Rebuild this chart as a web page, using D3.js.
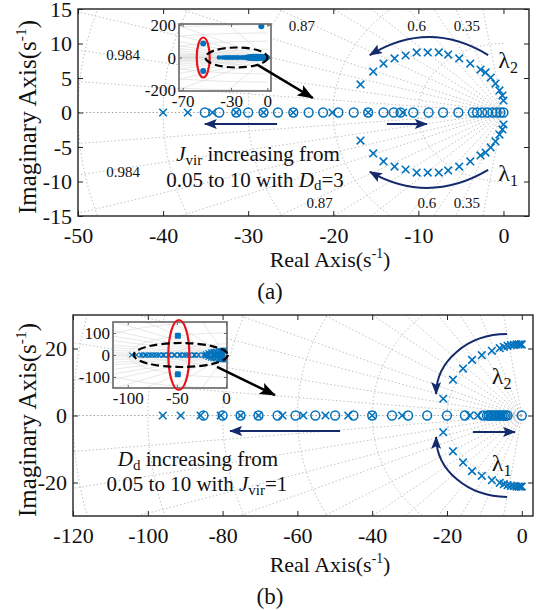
<!DOCTYPE html>
<html>
<head>
<meta charset="utf-8">
<script src="https://cdn.jsdelivr.net/npm/d3@7"></script>
<style>
  body { margin: 0; background: #fff; }
  svg text { font-family: 'Liberation Serif', 'Times New Roman', Tinos, 'DejaVu Serif', serif; fill: #111; }
</style>
</head>
<body>
<svg id="chart" width="541" height="610" font-family="Liberation Serif, Times New Roman, serif"></svg>
<script>
// ---- data ----
const topXTicks = [-50, -40, -30, -20, -10, 0];
const topYTicks = [-15, -10, -5, 0, 5, 10, 15];
const botXTicks = [-120, -100, -80, -60, -40, -20, 0];
const botYTicks = [-20, 0, 20];
const topInsetXTicks = [-70, -30, 0];
const topInsetYTicks = [-200, 0, 200];
const botInsetXTicks = [-100, -50, 0];
const botInsetYTicks = [-100, 0, 100];

const zetaLines = [0.16, 0.35, 0.48, 0.6, 0.72, 0.8, 0.87, 0.93, 0.96, 0.984, 0.996];
const topRadii = [10, 20, 30, 40, 50];
const botRadii = [20, 40, 60, 80, 100, 120];
const topInsetRadii = [50, 100, 150, 200];
const botInsetRadii = [50, 100, 150];

// (a) J_vir sweep
const topRealX = [-40, -37.1, -34.2, -31.4, -28.2, -24.7, -20.1, -15.9, -11.8];
const topRealO = [-35.1, -33.4, -31.4, -30, -28.2, -26.5, -24.7, -22.9, -21.2, -19.4, -17.6, -15.9,
  -14.1, -12.9, -12.1, -10.6, -8.8, -7.1, -5.3, -3.6, -3.1, -2.5, -1.9, -1.3, -0.8, -0.35, 0];
const topArcRe = [-16.8, -15.3, -14.1, -12.8, -11.5, -10.2, -8.9, -7.6, -6.5, -5.2, -3.9, -2.7, -2.1, -1.5, -0.94, -0.47, -0.12, 0];
const topArcIm = [4.06, 5.94, 7.1, 7.83, 8.26, 8.7, 8.7, 8.7, 8.4, 7.83, 7.1, 6.23, 5.8, 5.07, 4.2, 3.19, 2.46, 1.74];
const topFarRe = [-53, -53, -5];
const topFarIm = [85, -83, 191];

// (b) D_d sweep
const botRealX = [-96, -91.2, -85.9, -80.5, -75.2, -70.4, -64, -58.4, -52.5, -46.4, -40, -32,
  -13.9, -11.7, -9, -7.5, -6, -5];
const botRealO = [-85.1, -80, -75.2, -70.4, -65.3, -60.5, -55.2, -49.9, -45, -40, -34.7, -30.4,
  -25.3, -20, -15.2, -10.4, -9.3, -8.8, -8.3, -7.8, -7.3, -6.8, -6.3, -5.8, -5.3, -4.8, -4.3, -3.8, 0];
const botArcRe = [-21, -18.4, -15.7, -13.3, -10.7, -8, -5.9, -4.8, -3.8, -2.9, -2.1, -1.4, -0.8, -0.3, 0];
const botArcIm = [5.0, 10.7, 14, 16.6, 18, 19.3, 20.1, 20.5, 20.8, 21, 21.1, 21.2, 21.2, 21.2, 21.2];
const botFarRe = [-49, -49];
const botFarIm = [87, -88];

const markBlue = '#0072bd';
const navy = '#142a6c';
const serif = "'Liberation Serif', 'Times New Roman', Tinos, 'DejaVu Serif', serif";

const svg = d3.select('#chart');
const defs = svg.append('defs');

function addHead(id, color, len, wid) {
  defs.append('marker')
    .attr('id', id)
    .attr('viewBox', `0 0 ${len} ${wid}`)
    .attr('refX', len - 1)
    .attr('refY', wid / 2)
    .attr('markerWidth', len)
    .attr('markerHeight', wid)
    .attr('markerUnits', 'userSpaceOnUse')
    .attr('orient', 'auto')
    .append('path')
    .attr('d', `M0,0L${len},${wid / 2}L0,${wid}L${len * 0.2},${wid / 2}Z`)
    .attr('fill', color);
}
addHead('navyHead', navy, 13, 10);
addHead('blackHead', '#000', 16, 12);

const toPts = (re, im) => re.map((v, i) => [v, im ? im[i] : 0]);
const conj = (pts) => pts.map(([a, b]) => [a, -b]);

// dotted s-plane grid: damping lines and natural-frequency arcs
function drawGrid(g, x, y, radii, style) {
  zetaLines.forEach((z) => {
    [1, -1].forEach((s) => {
      g.append('line')
        .attr('x1', x(0)).attr('y1', y(0))
        .attr('x2', x(-1000 * z)).attr('y2', y(s * 1000 * Math.sqrt(1 - z * z)))
        .attr('stroke', style.color).attr('stroke-width', style.width)
        .attr('stroke-dasharray', style.dash);
    });
  });
  g.append('line')
    .attr('x1', x(-1000)).attr('x2', x(0)).attr('y1', y(0)).attr('y2', y(0))
    .attr('stroke', style.axisColor).attr('stroke-width', style.width)
    .attr('stroke-dasharray', style.dash);
  const arc = d3.line().x((a) => a[0]).y((a) => a[1]);
  radii.forEach((r) => {
    const pts = d3.range(0, 181, 3).map((deg) => {
      const t = (90 + deg) * Math.PI / 180;
      return [x(r * Math.cos(t)), y(r * Math.sin(t))];
    });
    g.append('path').attr('d', arc(pts)).attr('fill', 'none')
      .attr('stroke', style.color).attr('stroke-width', style.width)
      .attr('stroke-dasharray', style.dash);
  });
}

function drawAxes(x, y, xTicks, yTicks, opt) {
  const [x0, x1] = x.range();
  const [yb, yt] = y.range();
  const fmt = (d) => String(d);
  const g = svg.append('g');
  g.append('g').attr('transform', `translate(0,${yb})`)
    .call(d3.axisBottom(x).tickValues(xTicks).tickFormat(fmt).tickSizeInner(-opt.tick).tickSizeOuter(0).tickPadding(opt.padX));
  const left = g.append('g').attr('transform', `translate(${x0},0)`)
    .call(d3.axisLeft(y).tickValues(yTicks).tickFormat(fmt).tickSizeInner(-opt.tick).tickSizeOuter(0).tickPadding(opt.padY));
  g.append('g').attr('transform', `translate(0,${yt})`)
    .call(d3.axisTop(x).tickValues(xTicks).tickFormat('').tickSizeInner(-opt.tick).tickSizeOuter(0));
  g.append('g').attr('transform', `translate(${x1},0)`)
    .call(d3.axisRight(y).tickValues(yTicks).tickFormat('').tickSizeInner(-opt.tick).tickSizeOuter(0));
  g.selectAll('.domain').remove();
  g.selectAll('g').attr('font-family', null).attr('font-size', null);
  g.selectAll('.tick line').attr('stroke', opt.frame).attr('stroke-width', 1);
  g.selectAll('.tick text').attr('font-size', opt.font).attr('fill', '#111')
    .attr('font-family', serif).style('font-family', serif);
  left.selectAll('.tick text').attr('dy', '0.34em');
  g.append('rect').attr('x', x0).attr('y', yt).attr('width', x1 - x0).attr('height', yb - yt)
    .attr('fill', 'none').attr('stroke', opt.frame).attr('stroke-width', opt.frameWidth);
}

function drawCrosses(g, x, y, pts, size, width) {
  g.append('g').selectAll('path').data(pts).join('path')
    .attr('transform', (d) => `translate(${x(d[0])},${y(d[1])})`)
    .attr('d', `M${-size},${-size}L${size},${size}M${-size},${size}L${size},${-size}`)
    .attr('stroke', markBlue).attr('stroke-width', width).attr('fill', 'none');
}

function drawRings(g, x, y, pts, r, width) {
  g.append('g').selectAll('circle').data(pts).join('circle')
    .attr('cx', (d) => x(d[0])).attr('cy', (d) => y(d[1])).attr('r', r)
    .attr('stroke', markBlue).attr('stroke-width', width).attr('fill', 'none');
}

function drawDots(g, x, y, pts, r) {
  g.append('g').selectAll('circle').data(pts).join('circle')
    .attr('cx', (d) => x(d[0])).attr('cy', (d) => y(d[1])).attr('r', r)
    .attr('fill', markBlue);
}

function panelClip(id, x, y) {
  const [x0, x1] = x.range();
  const [yb, yt] = y.range();
  defs.append('clipPath').attr('id', id).append('rect')
    .attr('x', x0).attr('y', yt).attr('width', x1 - x0).attr('height', yb - yt);
  return svg.append('g').attr('clip-path', `url(#${id})`);
}

const mainGrid = { color: '#b3b3b3', axisColor: '#8a8a8a', width: 0.8, dash: '1.5,2.2' };
const insetGrid = { color: '#dcdcdc', axisColor: '#c8c8c8', width: 0.7, dash: null };
const mainAxes = { tick: 5, padX: 11, padY: 6, font: 22, frame: '#222', frameWidth: 1.4 };
const insetAxes = { tick: 3, padX: 4, padY: 3, font: 17, frame: '#666', frameWidth: 1.6 };

function navyArrow(path) {
  svg.append('path').attr('d', path).attr('fill', 'none').attr('stroke', navy)
    .attr('stroke-width', 2).attr('marker-end', 'url(#navyHead)');
}
function blackArrow(x1, y1, x2, y2) {
  svg.append('line').attr('x1', x1).attr('y1', y1).attr('x2', x2).attr('y2', y2)
    .attr('stroke', '#000').attr('stroke-width', 2.6).attr('marker-end', 'url(#blackHead)');
}
function ellipse(cx, cy, rx, ry, color, dash) {
  svg.append('ellipse').attr('cx', cx).attr('cy', cy).attr('rx', rx).attr('ry', ry)
    .attr('fill', 'none').attr('stroke', color).attr('stroke-width', 2.2)
    .attr('stroke-dasharray', dash);
}
function lambda(px, py, sub) {
  const t = svg.append('text').attr('x', px).attr('y', py).attr('font-size', 24);
  t.append('tspan').text('λ');
  t.append('tspan').attr('font-size', 16).attr('dy', 5).text(sub);
}
function axisTitle(sel, main, size) {
  sel.append('tspan').text(main);
  sel.append('tspan').attr('font-size', size * 0.62).attr('dy', -size * 0.4).text('-1');
  sel.append('tspan').attr('dy', size * 0.4).text(')');
}

// ================= (a) =================
const topX = d3.scaleLinear().domain([-50, 3]).range([78, 529]);
const topY = d3.scaleLinear().domain([-15, 15]).range([216, 9]);

const topGridG = panelClip('clipTop', topX, topY);
drawGrid(topGridG, topX, topY, topRadii, mainGrid);

// damping labels
[['0.984', -44.7, 7.6], ['0.984', -44.7, -9.3], ['0.87', -23.7, 11.8], ['0.87', -21.6, -13.9],
 ['0.6', -10.2, 11.8], ['0.6', -9.0, -13.9], ['0.35', -4.3, 11.8], ['0.35', -4.3, -13.9]]
  .forEach(([s, a, b]) => {
    svg.append('text').attr('x', topX(a)).attr('y', topY(b)).attr('text-anchor', 'middle')
      .attr('font-size', 15).text(s);
  });

const topMarks = svg.append('g');
drawRings(topMarks, topX, topY, toPts(topRealO), 4.4, 1.5);
drawCrosses(topMarks, topX, topY, toPts(topRealX), 3.8, 1.6);
drawCrosses(topMarks, topX, topY, toPts(topArcRe, topArcIm), 3.8, 1.6);
drawCrosses(topMarks, topX, topY, conj(toPts(topArcRe, topArcIm)), 3.8, 1.6);

drawAxes(topX, topY, topXTicks, topYTicks, mainAxes);

// navy arrows (a)
navyArrow(`M${topX(-26.6)},${topY(-1.67)}L${topX(-35.1)},${topY(-1.67)}`);
navyArrow(`M${topX(-13.7)},${topY(-1.67)}L${topX(-9.0)},${topY(-1.67)}`);
navyArrow(`M${topX(-1.8)},${topY(8.33)}Q${topX(-8.75)},${topY(13.55)} ${topX(-15.7)},${topY(8.33)}`);
navyArrow(`M${topX(-1.8)},${topY(-8.33)}Q${topX(-8.75)},${topY(-13.4)} ${topX(-15.7)},${topY(-8.6)}`);
lambda(topX(-0.6), topY(6.4), '2');
lambda(topX(-0.6), topY(-9.9), '1');

// annotation text (a)
{
  const t1 = svg.append('text').attr('x', 258).attr('y', 161).attr('text-anchor', 'middle').attr('font-size', 21);
  t1.append('tspan').attr('font-style', 'italic').text('J');
  t1.append('tspan').attr('font-size', 15).attr('dy', 4).text('vir');
  t1.append('tspan').attr('dy', -4).text(' increasing from');
  const t2 = svg.append('text').attr('x', 255).attr('y', 187).attr('text-anchor', 'middle').attr('font-size', 21);
  t2.append('tspan').text('0.05 to 10 with ');
  t2.append('tspan').attr('font-style', 'italic').text('D');
  t2.append('tspan').attr('font-size', 15).attr('dy', 3).text('d');
  t2.append('tspan').attr('dy', -3).text('=3');
}

// inset (a)
const topInX = d3.scaleLinear().domain([-73, 3]).range([179, 271]);
const topInY = d3.scaleLinear().domain([-205, 205]).range([91, 24]);
svg.append('rect').attr('x', 179).attr('y', 24).attr('width', 92).attr('height', 67).attr('fill', '#fff');
const topInG = panelClip('clipTopIn', topInX, topInY);
drawGrid(topInG, topInX, topInY, topInsetRadii, insetGrid);
const topInAll = [].concat(toPts(topRealX), toPts(topRealO), toPts(topArcRe, topArcIm),
  conj(toPts(topArcRe, topArcIm)));
drawDots(topInG, topInX, topInY, topInAll, 2.3);
drawDots(topInG, topInX, topInY, toPts(topFarRe, topFarIm), 3);
drawAxes(topInX, topInY, topInsetXTicks, topInsetYTicks, insetAxes);
ellipse(topInX(-53), topInY(0), 6.5, 20, '#e8141c', null);
ellipse(topInX(-25.5), topInY(0), 31, 10, '#000', '8,4');
blackArrow(topX(-28.85), topY(6.88), topX(-22.4), topY(2.1));

// labels (a)
svg.append('text').attr('transform', 'translate(36,117) rotate(-90)').attr('text-anchor', 'middle')
  .attr('font-size', 25).call((t) => axisTitle(t, 'Imaginary Axis(s', 25));
svg.append('text').attr('x', 330).attr('y', 267).attr('text-anchor', 'middle').attr('font-size', 22)
  .call((t) => axisTitle(t, 'Real Axis(s', 22));
svg.append('text').attr('x', 270).attr('y', 299).attr('text-anchor', 'middle').attr('font-size', 23).text('(a)');

// ================= (b) =================
const botX = d3.scaleLinear().domain([-120, 3]).range([73, 533]);
const botY = d3.scaleLinear().domain([-30, 30]).range([516, 315]);

const botGridG = panelClip('clipBot', botX, botY);
drawGrid(botGridG, botX, botY, botRadii, mainGrid);

const botMarks = svg.append('g');
drawRings(botMarks, botX, botY, toPts(botRealO), 4.4, 1.5);
drawCrosses(botMarks, botX, botY, toPts(botRealX), 3.8, 1.6);
drawCrosses(botMarks, botX, botY, toPts(botArcRe, botArcIm), 3.8, 1.6);
drawCrosses(botMarks, botX, botY, conj(toPts(botArcRe, botArcIm)), 3.8, 1.6);

drawAxes(botX, botY, botXTicks, botYTicks, mainAxes);

navyArrow(`M${botX(-48.6)},${botY(-4.6)}L${botX(-78)},${botY(-4.6)}`);
navyArrow(`M${botX(-13.05)},${botY(-4.9)}L${botX(-1.8)},${botY(-4.9)}`);
navyArrow(`M${botX(-3.96)},${botY(24.3)}C${botX(-14.4)},${botY(24.3)} ${botX(-22.9)},${botY(16.3)} ${botX(-22.9)},${botY(6.4)}`);
navyArrow(`M${botX(-3.96)},${botY(-24.3)}C${botX(-14.4)},${botY(-24.3)} ${botX(-22.9)},${botY(-16.3)} ${botX(-22.9)},${botY(-6.4)}`);
lambda(botX(-8.0), botY(9.5), '2');
lambda(botX(-8.0), botY(-16.5), '1');

{
  const t1 = svg.append('text').attr('x', 198).attr('y', 466).attr('text-anchor', 'middle').attr('font-size', 21);
  t1.append('tspan').attr('font-style', 'italic').text('D');
  t1.append('tspan').attr('font-size', 15).attr('dy', 4).text('d');
  t1.append('tspan').attr('dy', -4).text(' increasing from');
  const t2 = svg.append('text').attr('x', 197).attr('y', 491).attr('text-anchor', 'middle').attr('font-size', 21);
  t2.append('tspan').text('0.05 to 10 with ');
  t2.append('tspan').attr('font-style', 'italic').text('J');
  t2.append('tspan').attr('font-size', 15).attr('dy', 4).text('vir');
  t2.append('tspan').attr('dy', -4).text('=1');
}

// inset (b)
const botInX = d3.scaleLinear().domain([-115, 1]).range([113, 227]);
const botInY = d3.scaleLinear().domain([-150, 150]).range([388, 322]);
svg.append('rect').attr('x', 113).attr('y', 322).attr('width', 114).attr('height', 66).attr('fill', '#fff');
const botInG = panelClip('clipBotIn', botInX, botInY);
drawGrid(botInG, botInX, botInY, botInsetRadii, insetGrid);
drawRings(botInG, botInX, botInY, toPts(botRealO), 2.2, 1.3);
drawCrosses(botInG, botInX, botInY, toPts(botRealX), 2.4, 1.3);
drawCrosses(botInG, botInX, botInY, toPts(botArcRe, botArcIm), 2.4, 1.3);
drawCrosses(botInG, botInX, botInY, conj(toPts(botArcRe, botArcIm)), 2.4, 1.3);
botInG.append('g').selectAll('rect').data(toPts(botFarRe, botFarIm)).join('rect')
  .attr('x', (d) => botInX(d[0]) - 3).attr('y', (d) => botInY(d[1]) - 3)
  .attr('width', 6).attr('height', 6).attr('rx', 1.2).attr('fill', markBlue);
drawAxes(botInX, botInY, botInsetXTicks, botInsetYTicks, insetAxes);
ellipse(botInX(-48), botInY(0), 10.5, 35, '#e8141c', null);
ellipse(botInX(-46), botInY(0), 47, 12, '#000', '8,4');
blackArrow(botX(-81.5), botY(14.5), botX(-66), botY(6.1));

svg.append('text').attr('transform', 'translate(36,420) rotate(-90)').attr('text-anchor', 'middle')
  .attr('font-size', 25).call((t) => axisTitle(t, 'Imaginary Axis(s', 25));
svg.append('text').attr('x', 330).attr('y', 572).attr('text-anchor', 'middle').attr('font-size', 22)
  .call((t) => axisTitle(t, 'Real Axis(s', 22));
svg.append('text').attr('x', 270).attr('y', 604).attr('text-anchor', 'middle').attr('font-size', 23).text('(b)');
</script>
</body>
</html>
